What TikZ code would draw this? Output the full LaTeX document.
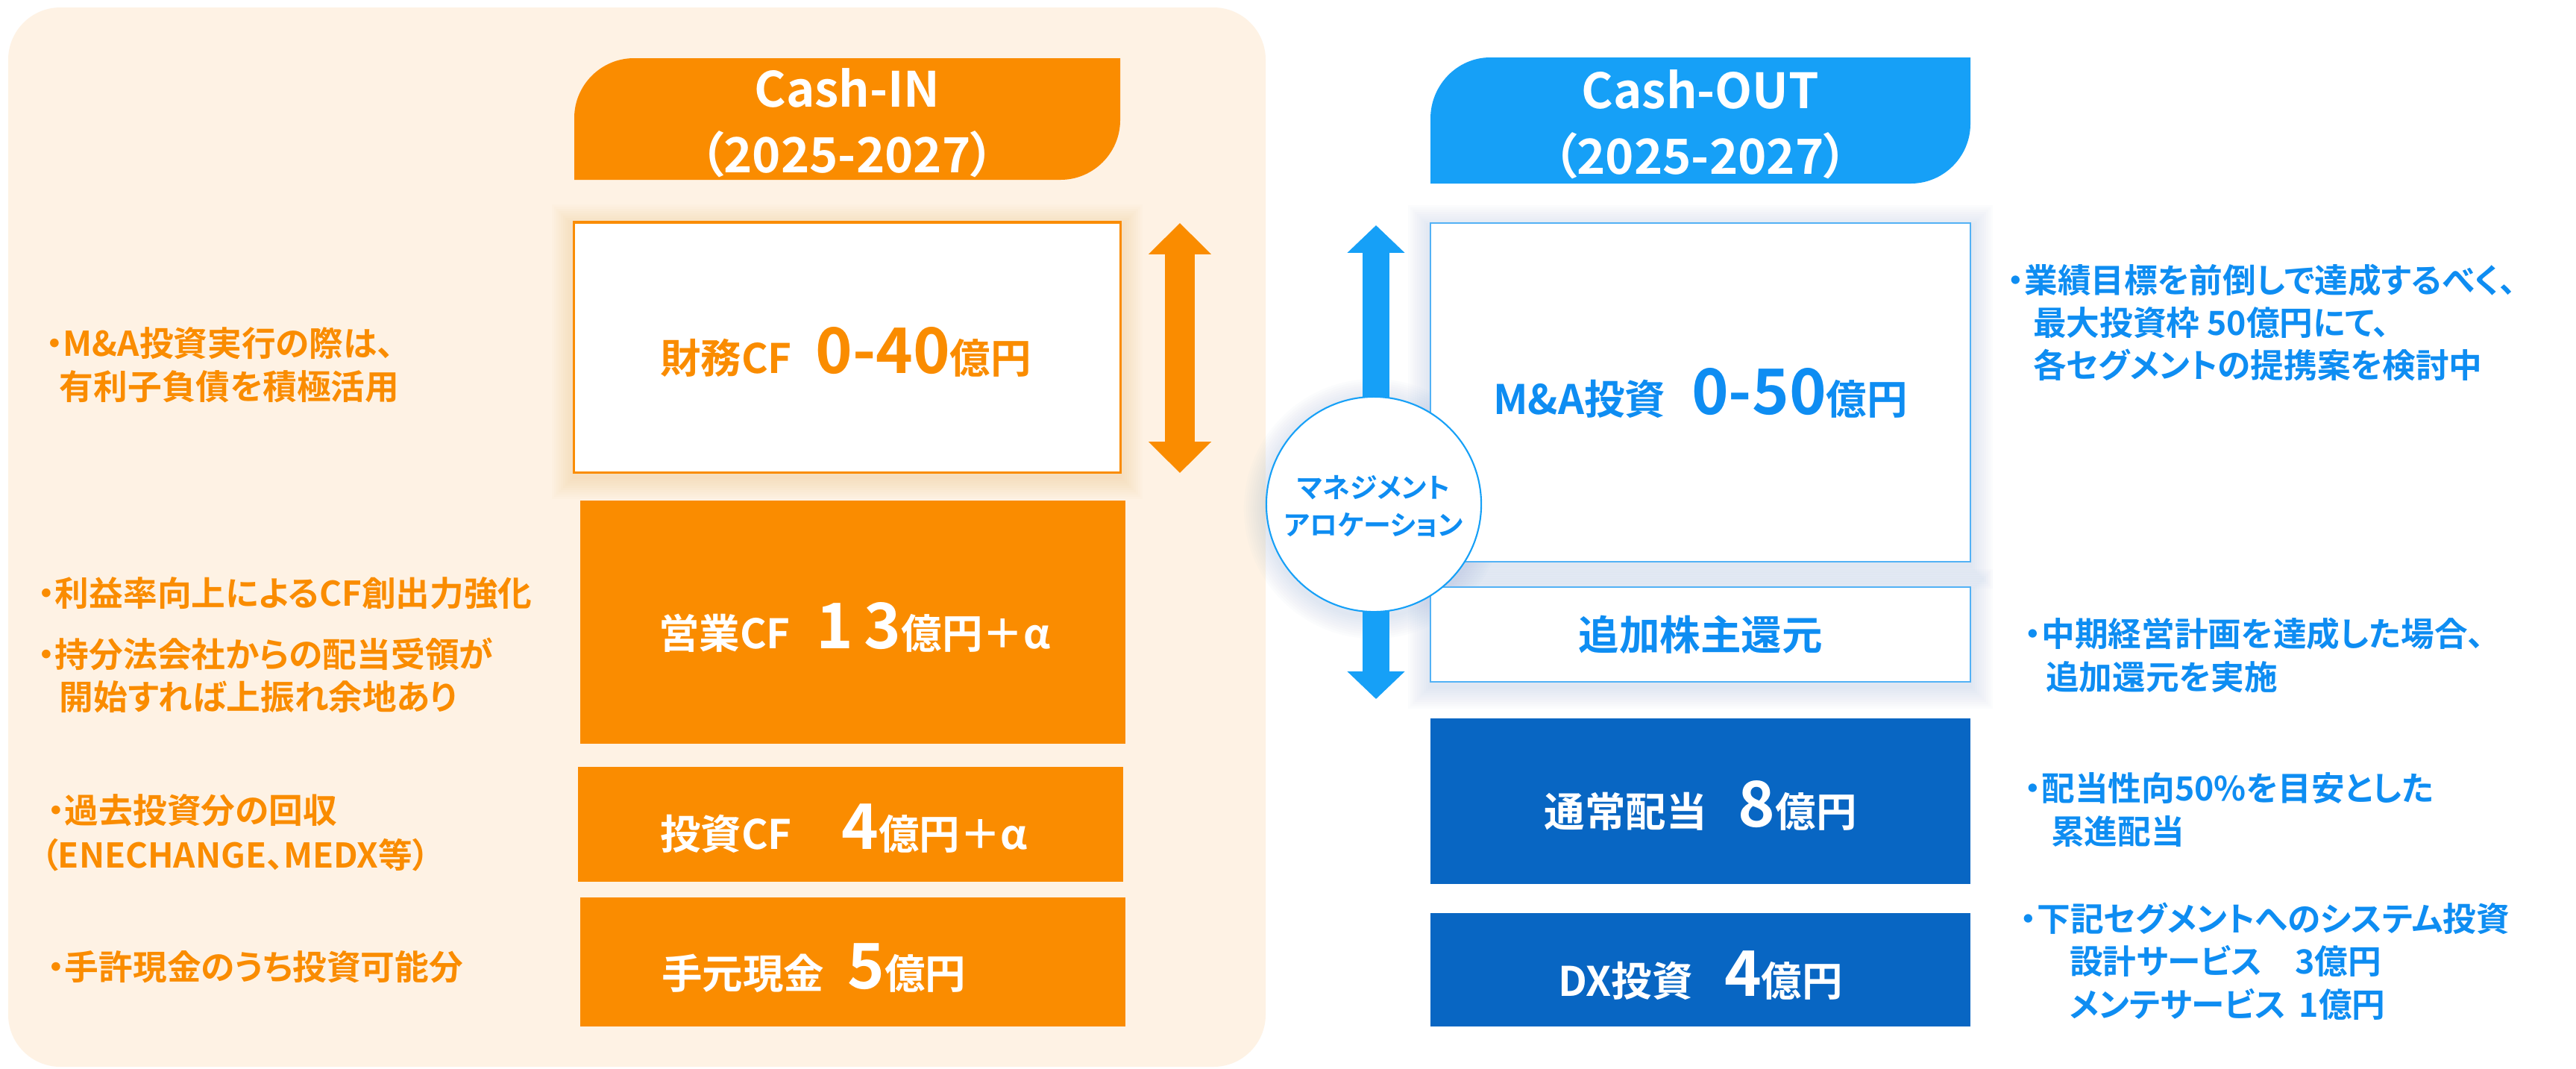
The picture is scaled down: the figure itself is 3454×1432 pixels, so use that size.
\documentclass[tikz,border=0pt]{standalone}
\usepackage{fontspec}
\setmainfont{Noto Sans CJK JP}[BoldFont={* Bold}, RawFeature=+palt]
\usetikzlibrary{arrows.meta}
\definecolor{cOrange}{HTML}{FA8C00}
\definecolor{cPeach}{HTML}{FEF2E4}
\definecolor{cHdrBlue}{HTML}{16A0F7}
\definecolor{cDark}{HTML}{0866C3}
\definecolor{cTxtB}{HTML}{0E8DF2}
\definecolor{cBorderB}{HTML}{52B1F5}
\definecolor{cGlowB}{HTML}{9DB5DA}
\definecolor{cGlowO}{HTML}{F6B56A}
\newcommand\myglow[5]{%
  \foreach \d in {3,6,...,30} {
    \fill[#5, opacity=0.03] (#1-\d,#2-\d+6) rectangle (#3+\d,#4+\d+6);
  }%
}
\newcommand\bignum[1]{{\fontsize{24}{26}\selectfont #1}}
\tikzset{
  every node/.style={inner sep=0pt, outer sep=0pt},
  onote/.style={anchor=base west, text=cOrange, font=\bfseries\fontsize{13}{15}\selectfont},
  bnote/.style={anchor=base west, text=cTxtB, font=\bfseries\fontsize{12.7}{15}\selectfont},
  boxlbl/.style={anchor=base west, font=\bfseries\fontsize{15.5}{17}\selectfont},
  boxlblc/.style={anchor=base, font=\bfseries\fontsize{15.5}{17}\selectfont},
  hdr/.style={anchor=base, text=white, font=\bfseries\fontsize{18.5}{20}\selectfont},
  circlbl/.style={anchor=base, text=cTxtB, font=\bfseries\fontsize{10.5}{12}\selectfont},
  obox/.style={rectangle, fill=cOrange, minimum width=7.31cm},
  owbox/.style={rectangle, fill=white, draw=cOrange, line width=0.9pt, minimum width=7.32cm},
  bwbox/.style={rectangle, fill=white, draw=cBorderB, line width=0.7pt, minimum width=7.24cm},
  bbox/.style={rectangle, fill=cDark, minimum width=7.24cm},
}
\begin{document}
\begin{tikzpicture}[x=0.01cm,y=-0.01cm]
\useasboundingbox (0,0) rectangle (3454,1432);
\fill[white] (0,0) rectangle (3454,1432);
% left panel
\fill[cPeach, rounded corners=0.7cm] (11,10) rectangle (1697,1430);

% headers
\fill[cOrange] (770,241) -- (770,158) .. controls (770,114) and (806,78) .. (850,78)
  -- (1502,78) -- (1502,161) .. controls (1502,205) and (1466,241) .. (1422,241) -- cycle;
\fill[cHdrBlue] (1918,246) -- (1918,159) .. controls (1918,114) and (1954,77) .. (1998,77)
  -- (2642,77) -- (2642,166) .. controls (2642,210) and (2606,246) .. (2562,246) -- cycle;
\node[hdr] (hinA) at (1136,143) {Cash-IN};
\node[hdr] (hinB) at (1136,231) {（2025-2027）};
\node[hdr] (houtA) at (2280,145) {Cash-OUT};
\node[hdr] (houtB) at (2280,233) {（2025-2027）};

% glows
\myglow{770}{298}{1502}{633}{cGlowO}
\myglow{1918}{299}{2642}{753}{cGlowB}
\myglow{1918}{787}{2642}{914}{cGlowB}
\foreach \d in {3,6,...,30} {
  \fill[cGlowB, opacity=0.03] (1842,682) circle ({1.44cm+\d*0.01cm});
}

% left boxes
\node[owbox, minimum height=3.35cm] (fin) at (1136,465.5) {};
\node[obox, minimum height=3.26cm] (ope) at (1143.5,834) {};
\node[obox, minimum height=1.54cm] (inv) at (1140.5,1105) {};
\node[obox, minimum height=1.73cm] (cash) at (1143.5,1289.5) {};

\node[boxlbl, text=cOrange] (tfin) at (885,500) {財務CF\hspace{9pt}\bignum{0-40}億円};
\node[boxlbl, text=white] (tope) at (883,869) {営業CF\hspace{10pt}\bignum{1\hspace{4pt}3}億円＋α};
\node[boxlbl, text=white] (tinv) at (885,1138) {投資CF\hspace{19pt}\bignum{4}億円＋α};
\node[boxlbl, text=white] (tcash) at (887,1325) {手元現金\hspace{9pt}\bignum{5}億円};

% right boxes
\node[bwbox, minimum height=4.54cm] (ma) at (2280,526) {};
\node[bwbox, minimum height=1.27cm] (add) at (2280,850.5) {};
\node[bbox, minimum height=2.22cm] (div) at (2280,1074) {};
\node[bbox, minimum height=1.52cm] (dx) at (2280,1300) {};

\node[boxlblc, text=cTxtB] (tma) at (2280,555) {M\&A投資\hspace{10pt}\bignum{0-50}億円};
\node[boxlblc, text=cTxtB] (tadd) at (2280,871) {追加株主還元};
\node[boxlblc, text=white] (tdiv) at (2280,1108) {通常配当\hspace{12pt}\bignum{8}億円};
\node[boxlblc, text=white] (tdx) at (2280,1335) {DX投資\hspace{12pt}\bignum{4}億円};

% arrows
\coordinate (oa1) at (1582,299);
\coordinate (oa2) at (1582,634);
\draw[cOrange, line width=11.3pt, {Triangle[length=11.9pt,width=23.2pt]}-{Triangle[length=11.9pt,width=23.2pt]}] (oa1) -- (oa2);
\coordinate (ba1) at (1845,302);
\coordinate (ba2) at (1845,937);
\draw[cHdrBlue, line width=10.5pt, {Triangle[length=10.5pt,width=21.3pt]}-{Triangle[length=10.5pt,width=21.3pt]}] (ba1) -- (ba2);

% circle
\node[circle, fill=white, draw=cHdrBlue, line width=0.6pt, minimum size=2.88cm] (mgmt) at (1842,676) {};
\node[circlbl] (mg1) at (1842,667) {マネジメント};
\node[circlbl] (mg2) at (1842,717) {アロケーション};

% left notes
\node[onote] (n1a) at (62,477) {・M\&A投資実行の際は、};
\node[onote] (n1b) at (80,535) {有利子負債を積極活用};
\node[onote] (n2a) at (51,812) {・利益率向上によるCF創出力強化};
\node[onote] (n2b) at (51,894) {・持分法会社からの配当受領が};
\node[onote] (n2c) at (80,951) {開始すれば上振れ余地あり};
\node[onote] (n3a) at (64,1103) {・過去投資分の回収};
\node[onote] (n3b) at (55,1163) {（ENECHANGE、MEDX等）};
\node[onote] (n4a) at (64,1313) {・手許現金のうち投資可能分};

% right notes
\node[bnote] (r1a) at (2692,392) {・業績目標を前倒しで達成するべく、};
\node[bnote] (r1b) at (2726,449) {最大投資枠 50億円にて、};
\node[bnote] (r1c) at (2726,506) {各セグメントの提携案を検討中};
\node[bnote] (r2a) at (2715,866) {・中期経営計画を達成した場合、};
\node[bnote] (r2b) at (2743,924) {追加還元を実施};
\node[bnote] (r3a) at (2715,1073) {・配当性向50\%を目安とした};
\node[bnote] (r3b) at (2750,1131) {累進配当};
\node[bnote] (r4a) at (2709,1248) {・下記セグメントへのシステム投資};
\node[bnote] (r4b) at (2775,1305) {\makebox[86pt][l]{設計サービス}3億円};
\node[bnote] (r4c) at (2775,1363) {\makebox[87.5pt][l]{メンテサービス}1億円};
\end{tikzpicture}
\end{document}
